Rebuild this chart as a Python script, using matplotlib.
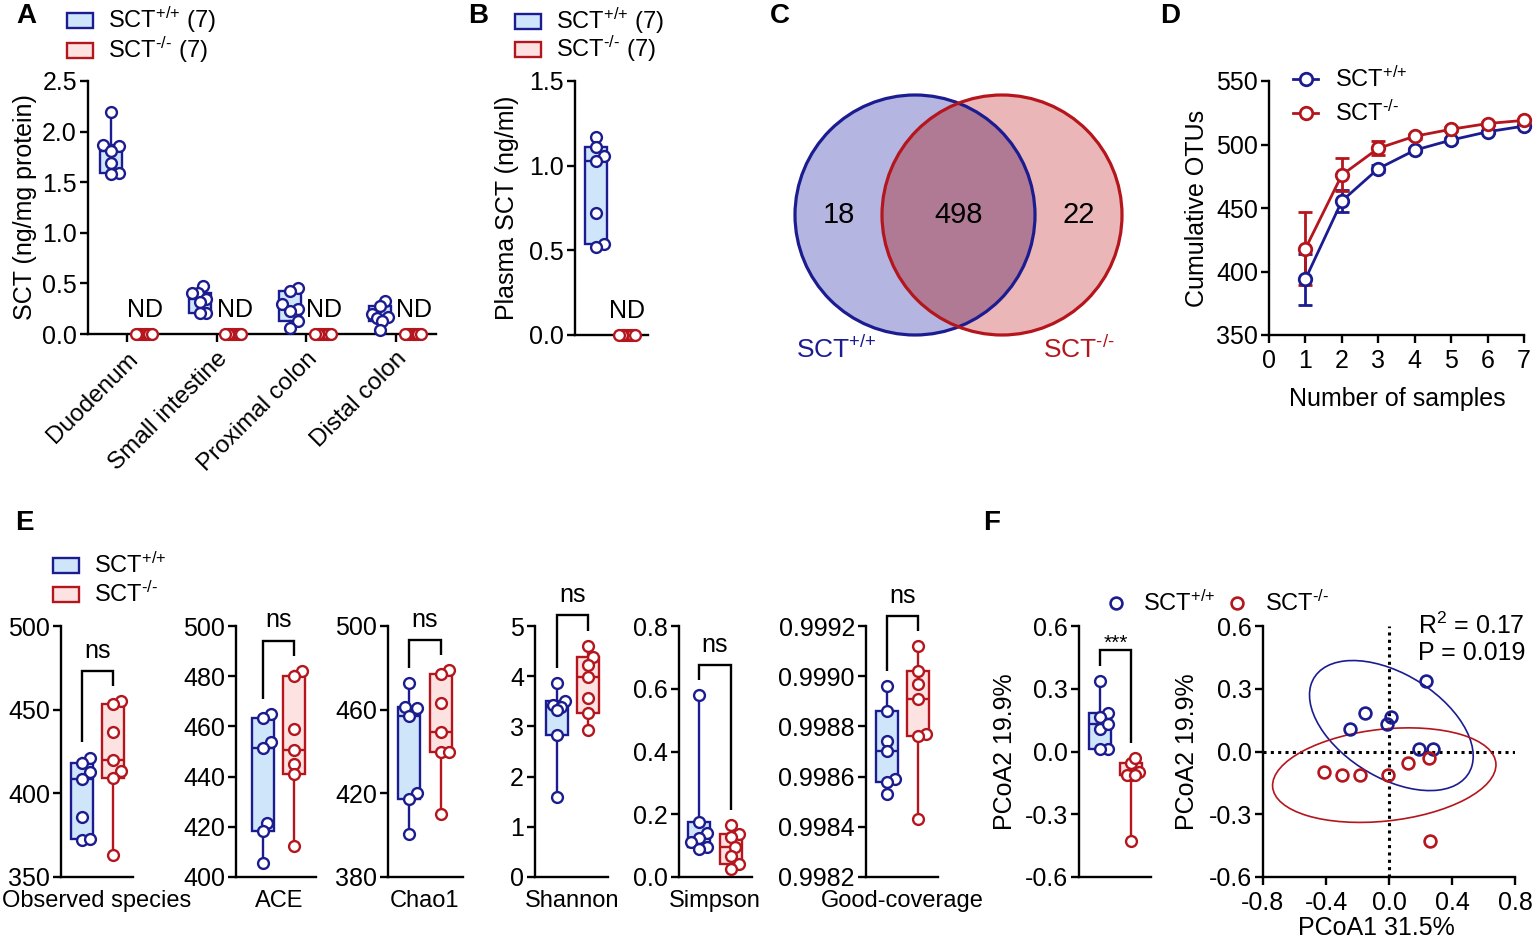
import numpy as np
import matplotlib
matplotlib.use('Agg')
import matplotlib.pyplot as plt
from matplotlib.patches import Rectangle, Circle, Ellipse
from matplotlib.lines import Line2D
from matplotlib.ticker import FormatStrFormatter

plt.rcParams['font.family'] = ['Liberation Sans', 'DejaVu Sans']
plt.rcParams['mathtext.fontset'] = 'custom'
plt.rcParams['mathtext.rm'] = 'Liberation Sans'
plt.rcParams['mathtext.it'] = 'Liberation Sans:italic'
plt.rcParams['mathtext.bf'] = 'Liberation Sans:bold'
plt.rcParams['axes.unicode_minus'] = False

# ---- donnees ----
tissues = ['Duodenum', 'Small intestine', 'Proximal colon', 'Distal colon']
sct_wt_tissue = [
    [2.19, 1.87, 1.86, 1.81, 1.69, 1.59, 1.58],
    [0.47, 0.41, 0.41, 0.35, 0.32, 0.21, 0.21],
    [0.45, 0.42, 0.30, 0.25, 0.23, 0.13, 0.06],
    [0.33, 0.28, 0.20, 0.17, 0.16, 0.13, 0.04],
]
sct_ko_tissue = [[0, 0, 0, 0, 0, 0, 0] for _ in tissues]
plasma_wt = [1.17, 1.11, 1.06, 1.03, 0.72, 0.54, 0.52]
plasma_ko = [0, 0, 0, 0, 0, 0, 0]

venn_counts = [18, 498, 22]

n_samples = [1, 2, 3, 4, 5, 6, 7]
otu_wt = [394, 455.5, 481, 495.5, 503.5, 510, 514.5]
otu_wt_err = [20, 8.5, 3, 1.5, 1.5, 1, 1]
otu_ko = [418, 476, 497, 506.5, 512, 516.5, 519]
otu_ko_err = [29, 13, 5.5, 2, 1.5, 1, 1]

alpha_names = ['Observed species', 'ACE', 'Chao1', 'Shannon', 'Simpson', 'Good-coverage']
alpha_wt = [
    [421.4, 418.2, 412.8, 408.8, 385.9, 371.9, 372.5],
    [465.1, 463.4, 453.9, 451.2, 421.7, 418.2, 405.4],
    [472.6, 460.7, 461.5, 456.8, 420.2, 417.5, 400.6],
    [3.87, 3.50, 3.42, 3.38, 3.33, 2.83, 1.60],
    [0.58, 0.175, 0.14, 0.125, 0.11, 0.095, 0.09],
    [0.99896, 0.99886, 0.99874, 0.99870, 0.99859, 0.99858, 0.99853],
]
alpha_ko = [
    [455.1, 453.1, 436.8, 419.8, 413.2, 409.4, 363.0],
    [482.2, 479.9, 459.0, 450.4, 445.0, 441.0, 412.3],
    [479.0, 477.0, 463.4, 449.3, 439.7, 439.7, 410.2],
    [4.61, 4.39, 4.22, 3.99, 3.57, 3.26, 2.92],
    [0.165, 0.138, 0.128, 0.096, 0.066, 0.04, 0.024],
    [0.99912, 0.99902, 0.99897, 0.99891, 0.99877, 0.99876, 0.99843],
]
alpha_ylim = [(350, 500), (400, 500), (380, 500), (0, 5), (0, 0.8), (0.9982, 0.9992)]
alpha_ticks = [[350, 400, 450, 500], [400, 420, 440, 460, 480, 500], [380, 420, 460, 500],
               [0, 1, 2, 3, 4, 5], [0.0, 0.2, 0.4, 0.6, 0.8],
               [0.9982, 0.9984, 0.9986, 0.9988, 0.9990, 0.9992]]
alpha_fmt = ['%d', '%d', '%d', '%d', '%.1f', '%.4f']
alpha_sig = ['ns', 'ns', 'ns', 'ns', 'ns', 'ns']

pcoa1_wt = [0.233, -0.150, -0.248, 0.013, -0.015, 0.193, 0.277]
pcoa2_wt = [0.339, 0.183, 0.108, 0.167, 0.132, 0.010, 0.010]
pcoa1_ko = [-0.411, -0.300, -0.182, -0.004, 0.119, 0.254, 0.260]
pcoa2_ko = [-0.097, -0.114, -0.114, -0.114, -0.057, -0.033, -0.428]
ell_center = [(0.015, 0.124), (-0.03, -0.113)]
ell_width = [1.093, 1.422]
ell_height = [0.522, 0.44]
ell_angle = [-20.6, 4.4]

WT = 'SCT$^{\\text{+/+}}$'
KO = 'SCT$^{\\text{-/-}}$'

# ---- style ----
NAVY = '#1C1C91'
RED = '#B5151C'
BLUE_F = '#CFE5FA'
RED_F = '#FDE2E2'
LW = 1.7
FS = 18   # ticks / axis titles
FL = 17   # legends, small labels

W, H = 1535, 940
fig = plt.figure(figsize=(W / 100, H / 100), dpi=100)


def fx(x):
    return x / W


def fy(y):
    return 1 - y / H


def px_axes(l, t, r, b):
    return fig.add_axes([l / W, 1 - b / H, (r - l) / W, (b - t) / H])


def style(ax):
    for s in ['top', 'right']:
        ax.spines[s].set_visible(False)
    for s in ['left', 'bottom']:
        ax.spines[s].set_linewidth(LW)
    ax.tick_params(width=LW, length=6, labelsize=FS, pad=2)


def ylab(ax, text, xpx, left, right):
    ax.set_ylabel(text, fontsize=FS)
    ax.yaxis.label.set_va('center')
    ax.yaxis.set_label_coords((xpx - left) / (right - left), 0.5)


def xlab(ax, text, xpx, ypx, l, t, r, b, fs=FS):
    ax.set_xlabel(text, fontsize=fs)
    ax.xaxis.label.set_va('center')
    ax.xaxis.set_label_coords((xpx - l) / (r - l), -(ypx - b) / (b - t))


def swarm(ax, vals, diam=10.5, maxw=8):
    v = np.asarray(vals, float)
    ypx = ax.transData.transform(np.column_stack([np.zeros(len(v)), v]))[:, 1]
    order = np.argsort(ypx)
    xs, ys = [], []
    offs = np.zeros(len(v))
    for i in order:
        for k in range(60):
            c = ((k + 1) // 2) * (1 if k % 2 else -1) * diam * 0.5
            if all((c - a) ** 2 + (ypx[i] - b) ** 2 >= (diam * 0.95) ** 2 for a, b in zip(xs, ys)):
                break
        xs.append(c)
        ys.append(ypx[i])
        offs[i] = c
    if np.abs(offs).max() > maxw:
        offs = offs * maxw / np.abs(offs).max()
    p0 = ax.transData.transform([[0, 0], [1, 0]])
    return offs / (p0[1, 0] - p0[0, 0])


def boxes(ax, groups, xs, width, edges, faces, ms=7.8):
    for vals, x, c, f in zip(groups, xs, edges, faces):
        v = np.asarray(vals, float)
        q1, med, q3 = np.percentile(v, [25, 50, 75], method='weibull')
        st = [dict(med=med, q1=q1, q3=q3, whislo=v.min(), whishi=v.max(), fliers=[])]
        ax.bxp(st, positions=[x], widths=width, patch_artist=True, showcaps=False,
               showfliers=False, manage_ticks=False,
               boxprops=dict(facecolor=f, edgecolor=c, linewidth=LW),
               whiskerprops=dict(color=c, linewidth=LW),
               medianprops=dict(color=c, linewidth=LW), zorder=2)
        ax.plot(x + swarm(ax, v), v, 'o', ms=ms, mfc='white', mec=c, mew=LW,
                ls='none', zorder=3, clip_on=False)


def bracket(ax, a, b, text, lo, hi, dy=9.5, fs=FS):
    rng = hi - lo
    ya = max(a[1]) + 0.06 * rng
    yb = max(b[1]) + 0.06 * rng
    top = max(max(a[1]), max(b[1])) + 0.12 * rng
    ax.plot([a[0], a[0], b[0], b[0]], [ya, top, top, yb], color='black', lw=LW,
            clip_on=False, solid_capstyle='butt', solid_joinstyle='miter')
    ax.annotate(text, (0.5 * (a[0] + b[0]), top), xytext=(0, dy), textcoords='offset points',
                ha='center', va='baseline', fontsize=fs, annotation_clip=False)


def two_group_xlim(ax, left, blue, red, right):
    sp = red - blue
    ax.set_xlim(-(blue - left) / sp, 1 + (right - red) / sp)


def fig_patch_legend(x, y_rows, labels, edges, faces):
    for yr, lab, c, f in zip(y_rows, labels, edges, faces):
        fig.add_artist(Rectangle((fx(x), fy(yr + 7.5)), 26 / W, 15 / H, transform=fig.transFigure,
                                 facecolor=f, edgecolor=c, lw=LW))
        fig.text(fx(x + 41), fy(yr), lab, fontsize=FL, va='center', ha='left')


def panel_label(x, y, s):
    fig.text(fx(x), fy(y), s, fontsize=20, fontweight='bold', ha='left', va='center')


# ---- A ----
axA = px_axes(88, 81, 436, 334)
style(axA)
cat = np.arange(len(tissues))
sp = (396 - 127) / 3
axA.set_xlim(-(127 - 88) / sp, 3 + (436 - 396) / sp)
axA.set_ylim(0, 2.5)
axA.set_yticks([0, 0.5, 1.0, 1.5, 2.0, 2.5])
axA.yaxis.set_major_formatter(FormatStrFormatter('%.1f'))
axA.set_xticks(cat)
axA.set_xticklabels(tissues, rotation=45, ha='right', va='top', rotation_mode='anchor')
axA.tick_params(axis='x', pad=4, labelsize=FL + 0.5)
off = 16.5 / sp
for i in cat:
    boxes(axA, [sct_wt_tissue[i], sct_ko_tissue[i]], [i - off, i + off], 22 / sp,
          [NAVY, RED], [BLUE_F, RED_F])
    axA.annotate('ND', (i + off, 0), xytext=(1, 12), textcoords='offset points',
                 ha='center', va='baseline', fontsize=FS)
ylab(axA, 'SCT (ng/mg protein)', 25, 88, 436)
fig_patch_legend(67, [20, 50], [WT + ' (7)', KO + ' (7)'], [NAVY, RED], [BLUE_F, RED_F])
panel_label(16, 16, 'A')

# ---- B ----
axB = px_axes(575, 81, 648, 335)
style(axB)
two_group_xlim(axB, 575, 596, 627, 648)
axB.set_ylim(0, 1.5)
axB.set_yticks([0, 0.5, 1.0, 1.5])
axB.yaxis.set_major_formatter(FormatStrFormatter('%.1f'))
axB.set_xticks([])
boxes(axB, [plasma_wt, plasma_ko], [0, 1], 22 / 31, [NAVY, RED], [BLUE_F, RED_F])
axB.annotate('ND', (1, 0), xytext=(0, 12), textcoords='offset points',
             ha='center', va='baseline', fontsize=FS)
ylab(axB, 'Plasma SCT (ng/ml)', 507, 575, 648)
fig_patch_legend(515, [21, 49], [WT + ' (7)', KO + ' (7)'], [NAVY, RED], [BLUE_F, RED_F])
panel_label(468, 16, 'B')

# ---- C (Venn) ----
axC = px_axes(775, 60, 1145, 380)
axC.set_xlim(-(958.5 - 775) / 120, (1145 - 958.5) / 120)
axC.set_ylim(-(380 - 215) / 120, (215 - 60) / 120)
axC.axis('off')
d = 0.3625
cb = Circle((-d, 0), 1, fc='#B4B5E1', ec='none')
cr = Circle((d, 0), 1, fc='#EAB6B8', ec='none')
axC.add_patch(cb)
axC.add_patch(cr)
ov = Circle((-d, 0), 1, fc='#B07A95', ec='none')
axC.add_patch(ov)
ov.set_clip_path(cr)
axC.add_patch(Circle((-d, 0), 1, fill=False, ec=NAVY, lw=2.3))
axC.add_patch(Circle((d, 0), 1, fill=False, ec=RED, lw=2.3))
for xpos, n in zip([-1.0, 0, 1.0], venn_counts):
    axC.text(xpos, 0, str(n), fontsize=21, ha='center', va='center')
axC.text(-1.02, -1.12, WT, color=NAVY, fontsize=19, ha='center', va='center')
axC.text(1.0, -1.12, KO, color=RED, fontsize=19, ha='center', va='center')
panel_label(770, 16, 'C')

# ---- D ----
axD = px_axes(1269, 81, 1524, 335)
style(axD)
axD.set_xlim(0, 7)
axD.set_ylim(350, 550)
axD.set_xticks(range(0, 8))
axD.set_yticks([350, 400, 450, 500, 550])
axD.tick_params(axis='x', pad=4)
for y, e, c in [(otu_wt, otu_wt_err, NAVY), (otu_ko, otu_ko_err, RED)]:
    axD.errorbar(n_samples, y, yerr=e, fmt='-o', color=c, lw=2, ms=9, mfc='white', mec=c,
                 mew=2, capsize=5, capthick=2, elinewidth=2, clip_on=False, zorder=3)
xlab(axD, 'Number of samples', 1397, 399, 1269, 81, 1524, 335)
ylab(axD, 'Cumulative OTUs', 1197, 1269, 1524)
for yr, lab, c in [(79, WT, NAVY), (113, KO, RED)]:
    fig.add_artist(Line2D([fx(1293), fx(1318)], [fy(yr), fy(yr)], color=c, lw=2,
                          transform=fig.transFigure))
    fig.add_artist(Line2D([fx(1305.5)], [fy(yr)], marker='o', ms=9, mfc='white', mec=c, mew=2,
                          transform=fig.transFigure))
    fig.text(fx(1335), fy(yr), lab, fontsize=FL, va='center')
panel_label(1160, 16, 'D')

# ---- E ----
e_pos = [(61, 82, 113, 133), (236, 263, 294, 316), (388, 409, 441, 463),
         (535, 557, 588, 608), (679, 699, 731, 752), (866, 887, 918, 938)]
e_lab_x = [97, 279, 424, 572, 715, 902]
for k, (l, bx, rx, r) in enumerate(e_pos):
    ax = px_axes(l, 626, r, 877)
    style(ax)
    two_group_xlim(ax, l, bx, rx, r)
    lo, hi = alpha_ylim[k]
    ax.set_ylim(lo, hi)
    ax.set_yticks(alpha_ticks[k])
    ax.yaxis.set_major_formatter(FormatStrFormatter(alpha_fmt[k]))
    ax.set_xticks([])
    boxes(ax, [alpha_wt[k], alpha_ko[k]], [0, 1], 22 / (rx - bx), [NAVY, RED], [BLUE_F, RED_F])
    bracket(ax, (0, alpha_wt[k]), (1, alpha_ko[k]), alpha_sig[k], lo, hi)
    xlab(ax, alpha_names[k], e_lab_x[k], 901, l, 626, r, 877, fs=FL)
fig_patch_legend(53, [565, 594], [WT, KO], [NAVY, RED], [BLUE_F, RED_F])
panel_label(15, 523, 'E')

# ---- F ----
axF1 = px_axes(1079, 626, 1151, 877)
style(axF1)
two_group_xlim(axF1, 1079, 1100, 1131, 1151)
axF1.set_ylim(-0.6, 0.6)
axF1.set_yticks([-0.6, -0.3, 0, 0.3, 0.6])
axF1.yaxis.set_major_formatter(FormatStrFormatter('%.1f'))
axF1.set_xticks([])
boxes(axF1, [pcoa2_wt, pcoa2_ko], [0, 1], 22 / 31, [NAVY, RED], [BLUE_F, RED_F])
bracket(axF1, (0, pcoa2_wt), (1, pcoa2_ko), '***', -0.6, 0.6, dy=1, fs=15)
ylab(axF1, 'PCoA2 19.9%', 1005, 1079, 1151)

axF2 = px_axes(1263, 626, 1515, 877)
style(axF2)
axF2.set_xlim(-0.8, 0.8)
axF2.set_ylim(-0.6, 0.6)
axF2.set_xticks([-0.8, -0.4, 0, 0.4, 0.8])
axF2.set_yticks([-0.6, -0.3, 0, 0.3, 0.6])
axF2.xaxis.set_major_formatter(FormatStrFormatter('%.1f'))
axF2.yaxis.set_major_formatter(FormatStrFormatter('%.1f'))
axF2.tick_params(axis='x', pad=4)
axF2.axhline(0, color='black', lw=2.2, ls=(0, (1, 1.4)), zorder=1)
axF2.axvline(0, color='black', lw=2.2, ls=(0, (1, 1.4)), zorder=1)
for i, c in enumerate([NAVY, RED]):
    axF2.add_patch(Ellipse(ell_center[i], ell_width[i], ell_height[i], angle=ell_angle[i],
                           fill=False, ec=c, lw=1.2, zorder=2))
axF2.plot(pcoa1_wt, pcoa2_wt, 'o', ms=8.5, mfc='none', mec=NAVY, mew=1.9, zorder=3)
axF2.plot(pcoa1_ko, pcoa2_ko, 'o', ms=8.5, mfc='none', mec=RED, mew=1.9, zorder=3)
ylab(axF2, 'PCoA2 19.9%', 1187, 1263, 1515)
xlab(axF2, 'PCoA1 31.5%', 1376, 928, 1263, 626, 1515, 877)
axF2.text(1.04, 1.0, 'R$^2$ = 0.17', transform=axF2.transAxes, ha='right', va='center', fontsize=FS)
axF2.text(1.04, 1.0 - 27 / 251, 'P = 0.019', transform=axF2.transAxes, ha='right', va='center', fontsize=FS)
for xc, xt, lab, c in [(1116, 1143, WT, NAVY), (1237, 1265, KO, RED)]:
    fig.add_artist(Line2D([fx(xc)], [fy(603)], marker='o', ms=8.5, mfc='none', mec=c, mew=1.9,
                          transform=fig.transFigure))
    fig.text(fx(xt), fy(603), lab, fontsize=FL, va='center')
panel_label(983, 523, 'F')

fig.savefig('out.png', dpi=100)
